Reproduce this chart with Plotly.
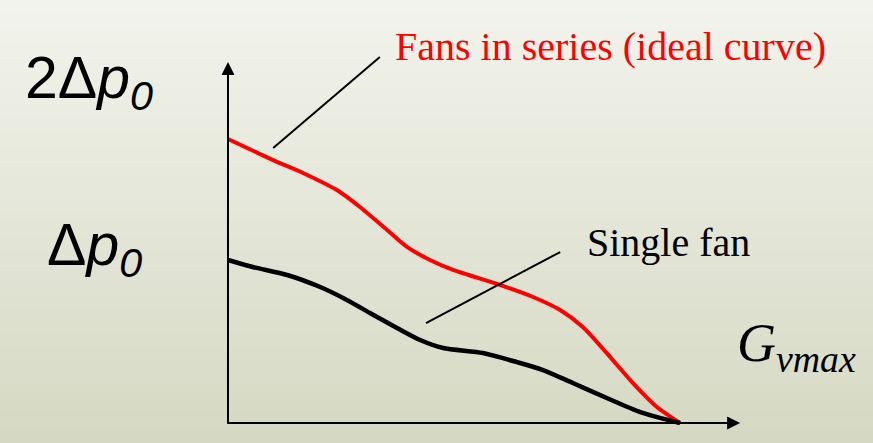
import plotly.graph_objects as go

# flow as fraction of Gvmax, pressure in units of dp0
flow_series = [0, 0.100, 0.166, 0.241, 0.292, 0.352, 0.396, 0.447, 0.498, 0.602, 0.675, 0.735,
               0.785, 0.838, 0.896, 0.949, 1.0]
dp_series = [1.742, 1.613, 1.534, 1.429, 1.325, 1.184, 1.080, 1.000, 0.939, 0.847, 0.773, 0.693,
             0.589, 0.429, 0.245, 0.098, 0]

flow_single = [0, 0.055, 0.131, 0.204, 0.263, 0.314, 0.374, 0.425, 0.476, 0.564, 0.639, 0.697,
               0.763, 0.838, 0.912, 1.0]
dp_single = [1.0, 0.957, 0.908, 0.834, 0.755, 0.675, 0.583, 0.509, 0.460, 0.429, 0.374, 0.325,
             0.245, 0.153, 0.067, 0]

label_series = 'Fans in series (ideal curve)'
label_single = 'Single fan'

fig = go.Figure()
fig.add_trace(go.Scatter(x=flow_series, y=dp_series, mode='lines',
                         line=dict(color='#ff0000', width=4, shape='spline', smoothing=0.7),
                         hoverinfo='skip'))
fig.add_trace(go.Scatter(x=flow_single, y=dp_single, mode='lines',
                         line=dict(color='#000000', width=4.5, shape='spline', smoothing=0.7),
                         hoverinfo='skip'))

# background gradient
top = (242, 243, 236)
bot = (213, 217, 195)
n = 60
for i in range(n):
    t = i / (n - 1)
    c = tuple(round(top[k] + (bot[k] - top[k]) * t) for k in range(3))
    fig.add_shape(type='rect', xref='paper', yref='paper', x0=0, x1=1,
                  y0=1 - (i + 1) / n, y1=1 - i / n + 0.001, line_width=0,
                  fillcolor='rgb(%d,%d,%d)' % c, layer='below')

# axes with arrows
fig.add_annotation(x=0, y=2.215, ax=0, ay=-0.01, xref='x', yref='y', axref='x', ayref='y',
                   showarrow=True, arrowhead=2, arrowsize=1.3, arrowwidth=2, arrowcolor='black', text='')
fig.add_annotation(x=1.133, y=0, ax=-0.005, ay=0, xref='x', yref='y', axref='x', ayref='y',
                   showarrow=True, arrowhead=2, arrowsize=1.3, arrowwidth=2, arrowcolor='black', text='')

# leader lines
fig.add_shape(type='line', x0=0.100, y0=1.687, x1=0.336, y1=2.245, line=dict(color='black', width=2))
fig.add_shape(type='line', x0=0.438, y0=0.613, x1=0.735, y1=1.049, line=dict(color='black', width=2))

serif = 'Liberation Serif, Times New Roman, serif'
sans = 'Liberation Sans, Arial, sans-serif'
fig.add_annotation(x=0.365, y=2.307, text=label_series, showarrow=False, xanchor='left', yanchor='middle',
                   font=dict(family=serif, size=40, color='#ff0000'))
fig.add_annotation(x=0.790, y=1.110, text=label_single, showarrow=False, xanchor='left', yanchor='middle',
                   font=dict(family=serif, size=40, color='black'))
fig.add_annotation(x=-0.4535, y=2.095, text='2Δ<i>p</i><sub><i>0</i></sub>', showarrow=False,
                   xanchor='left', yanchor='middle', font=dict(family=sans, size=59, color='black'))
fig.add_annotation(x=-0.405, y=1.065, text='Δ<i>p</i><sub><i>0</i></sub>', showarrow=False,
                   xanchor='left', yanchor='middle', font=dict(family=sans, size=59, color='black'))
fig.add_annotation(x=1.122, y=0.47, text='<i>G</i><sub><i>vmax</i></sub>', showarrow=False,
                   xanchor='left', yanchor='middle', font=dict(family=serif, size=54, color='black'))

fig.update_xaxes(range=[-0.5044, 1.427], visible=False)
fig.update_yaxes(range=[-0.1227, 2.595], visible=False)
fig.update_layout(width=873, height=443, margin=dict(l=0, r=0, t=0, b=0),
                  showlegend=False, plot_bgcolor='rgba(0,0,0,0)', paper_bgcolor='#e6e8dc')

fig.write_html('out.html', config={'displayModeBar': False},
               post_script="document.body.style.margin='0';")
